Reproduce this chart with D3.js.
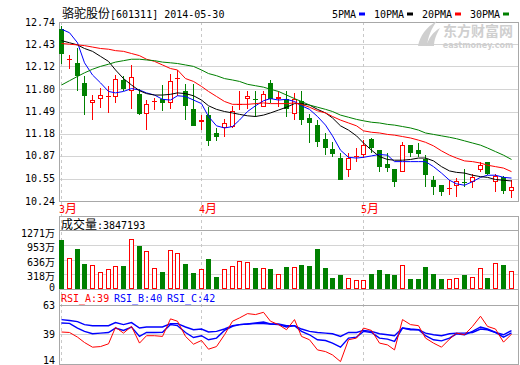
<!DOCTYPE html>
<html>
<head>
<meta charset="utf-8">
<title>骆驼股份</title>
<script src="https://cdn.jsdelivr.net/npm/d3@7"></script>
<style>
  body { margin: 0; background: #fff; }
</style>
</head>
<body>
<script>
// 日K数据 2014-03 ~ 2014-05
const days = d3.range(59);
const open  = [12.64,12.21,12.17,11.89,11.61,11.67,11.69,11.69,11.93,11.78,
               11.73,11.45,11.62,11.66,11.61,11.95,11.78,11.52,11.35,11.44,
               11.19,11.26,11.28,11.58,11.66,11.67,11.55,11.89,11.67,11.67,
               11.45,11.63,11.40,11.30,11.11,10.97,10.84,10.67,10.86,10.88,
               11.10,10.95,10.76,10.68,10.64,11.02,10.95,10.82,10.53,10.46,
               10.41,10.45,10.50,10.50,10.67,10.78,10.51,10.57,10.38];
const high  = [12.68,12.28,12.37,11.98,11.72,11.82,11.84,12.00,11.98,12.14,
               11.81,11.65,11.68,11.86,12.02,12.07,11.88,11.88,11.44,11.55,
               11.26,11.38,11.57,11.78,11.77,11.77,11.78,11.93,11.78,11.78,
               11.75,11.78,11.46,11.37,11.19,11.07,10.91,10.91,10.98,11.09,
               11.12,10.95,10.91,10.68,11.07,11.02,11.05,10.88,10.59,10.46,
               10.53,10.56,10.68,10.62,10.78,10.79,10.62,10.59,10.54];
const low   = [12.16,12.08,11.78,11.44,11.37,11.54,11.47,11.61,11.77,11.52,
               11.44,11.23,11.51,11.50,11.52,11.70,11.37,11.29,11.23,11.01,
               11.08,11.14,11.26,11.51,11.52,11.42,11.55,11.61,11.55,11.42,
               11.37,11.30,11.05,11.00,10.88,10.86,10.53,10.58,10.79,10.84,
               10.91,10.64,10.64,10.43,10.64,10.86,10.86,10.44,10.32,10.31,
               10.32,10.29,10.44,10.42,10.64,10.60,10.37,10.34,10.28];
const close = [12.29,12.23,11.98,11.70,11.65,11.72,11.70,11.95,11.80,11.97,
               11.46,11.59,11.64,11.61,11.91,11.96,11.57,11.29,11.37,11.08,
               11.14,11.33,11.50,11.60,11.71,11.65,11.73,11.66,11.69,11.52,
               11.67,11.37,11.33,11.07,10.98,10.90,10.54,10.84,10.87,11.02,
               10.98,10.72,10.70,10.51,11.02,10.91,10.89,10.60,10.44,10.36,
               10.42,10.52,10.49,10.57,10.74,10.62,10.59,10.38,10.43];
// 成交量 (万股)
const volume = [1070,682,876,553,531,380,424,510,510,1091,
                926,833,467,380,854,790,553,337,438,660,
                258,424,510,617,596,467,467,445,316,474,
                488,517,495,862,452,237,302,230,187,187,
                323,409,323,302,531,215,215,474,323,215,
                208,230,302,251,467,237,574,517,385];
// 均线
const ma5  = [12.64,12.59,12.45,12.17,12.00,11.89,11.77,11.75,11.77,11.81,
              11.79,11.75,11.72,11.66,11.65,11.71,11.70,11.65,11.60,11.42,
              11.29,11.26,11.28,11.37,11.49,11.57,11.64,11.67,11.65,11.66,
              11.63,11.57,11.52,11.42,11.30,11.15,10.95,10.85,10.84,10.85,
              10.87,10.89,10.88,10.79,10.79,10.79,10.79,10.79,10.72,10.63,
              10.53,10.48,10.46,10.51,10.57,10.60,10.60,10.57,10.56];
const ma10 = [12.48,12.45,12.42,12.37,12.33,12.26,12.19,12.07,11.95,11.86,
              11.78,11.74,11.72,11.72,11.73,11.75,11.74,11.71,11.65,11.57,
              11.52,11.49,11.47,11.45,11.43,11.42,11.44,11.47,11.51,11.55,
              11.60,11.60,11.58,11.52,11.47,11.40,11.29,11.23,11.15,11.05,
              10.95,10.86,10.82,10.81,10.81,10.82,10.84,10.84,10.80,10.72,
              10.66,10.64,10.63,10.60,10.58,10.57,10.54,10.53,10.52];
const ma20 = [12.44,12.43,12.42,12.41,12.39,12.37,12.36,12.34,12.33,12.30,
              12.27,12.22,12.19,12.14,12.09,12.07,11.95,11.91,11.84,11.77,
              11.70,11.63,11.59,11.59,11.59,11.60,11.61,11.60,11.60,11.60,
              11.61,11.59,11.55,11.50,11.47,11.42,11.37,11.33,11.29,11.22,
              11.20,11.19,11.17,11.16,11.14,11.12,11.09,11.06,11.01,10.94,
              10.88,10.84,10.80,10.79,10.77,10.74,10.72,10.70,10.65];
const ma30 = [11.86,11.92,11.98,12.03,12.08,12.12,12.15,12.18,12.20,12.22,
              12.22,12.21,12.20,12.18,12.17,12.16,12.14,12.12,12.07,12.02,
              11.99,11.95,11.93,11.91,11.87,11.85,11.83,11.80,11.77,11.72,
              11.67,11.63,11.58,11.55,11.52,11.49,11.44,11.41,11.38,11.36,
              11.34,11.33,11.31,11.30,11.28,11.26,11.23,11.19,11.17,11.15,
              11.13,11.11,11.08,11.05,11.02,10.98,10.93,10.88,10.82];
// RSI
const rsiA = [40.8,40.4,36.5,32.0,28.1,28.6,30.9,44.7,39.9,45.5,
              31.5,37.7,37.7,37.1,51.8,49.8,37.1,30.6,33.7,26.4,
              28.6,38.5,49.8,52.6,56.2,55.4,57.3,49.8,47.0,42.7,
              51.2,37.1,34.3,25.8,24.4,21.6,16.0,34.3,35.7,44.1,
              42.1,31.5,30.0,25.8,51.2,47.0,46.1,35.7,31.5,28.1,
              34.8,39.9,38.5,45.5,54.0,45.5,43.3,32.3,39];
const rsiB = [48.4,48.0,44.1,41.3,39.3,39.9,40.4,44.1,42.1,45.0,
              37.1,40.4,40.4,40.6,47.0,46.1,40.4,36.2,37.7,34.3,
              35.7,42.1,45.5,47.0,47.5,48.4,49.2,47.5,47.0,45.0,
              46.1,41.3,38.5,34.3,33.7,31.5,28.1,35.7,36.5,41.3,
              40.4,35.7,34.8,32.9,44.1,43.3,42.7,37.7,34.3,33.4,
              35.7,39.3,38.5,41.3,45.0,43.3,40.4,36.5,40];
const rsiC = [51.2,50.4,49.5,47.0,46.1,46.1,46.1,48.7,47.0,48.7,
              44.1,45.0,45.0,45.0,47.8,47.8,45.0,42.7,43.3,40.8,
              41.3,43.3,46.1,47.0,47.5,47.8,47.8,47.5,47.5,46.1,
              46.1,43.3,41.3,40.4,39.9,39.3,37.1,40.4,40.4,42.1,
              41.3,39.3,38.5,37.7,44.1,42.7,42.7,39.9,38.5,37.7,
              39.3,39.9,39.9,40.4,43.3,42.7,40.4,38.5,42];

const priceTicks = [10.24,10.55,10.87,11.18,11.49,11.80,12.12,12.43,12.74];
const volTicks = [0,318,636,953,1271];
const rsiTicks = [14,39,63];
const months = [{label:"3月", day:0},{label:"4月", day:18},{label:"5月", day:39}];
const maNames = ["5PMA","10PMA","20PMA","30PMA"];
const maColors = ["#0000ff","#000000","#ff0000","#008000"];

const RED = "#ff0000", GREEN = "#008000", GRID = "#d4d4d4", FRAME = "#a8a8a8";

const svg = d3.select("body").append("svg")
  .attr("width", 520).attr("height", 365);

// 文字: 中文用黑体, 数字用等宽
function label(g, x, y, s, color, anchor, cjkSize) {
  const t = g.append("text")
    .attr("x", x).attr("y", y)
    .attr("fill", color || "#000")
    .attr("text-anchor", anchor || "start");
  s.match(/[\u3000-\u9fff]+|[^\u3000-\u9fff]+/g).forEach(run => {
    const cjk = /[\u3000-\u9fff]/.test(run);
    t.append("tspan").text(run)
      .attr("font-family", cjk ? "Noto Sans CJK SC" : "DejaVu Sans Mono")
      .attr("font-size", cjk ? (cjkSize || 12) : 10);
  });
  return t;
}

const L = 59, R = 519;
const x = d3.scaleBand().domain(days).range([57.125, 514.375]);
const cx = d => Math.round(x(d) + x.bandwidth() / 2);
const y = d3.scaleLinear().domain([10.24, 12.74]).range([201, 22]);
const yv = d3.scaleLinear().domain([0, 1271]).range([289, 230.5]);
const yr = d3.scaleLinear().domain([14, 63]).range([364, 305.5]);
const px = v => Math.round(v) + 0.5;

// ---- 网格 ----
const grid = svg.append("g").attr("stroke", GRID).attr("shape-rendering", "crispEdges");
priceTicks.slice(1, -1).forEach(v => grid.append("line").attr("x1", L).attr("x2", R).attr("y1", px(y(v))).attr("y2", px(y(v))));
volTicks.slice(1, -1).forEach(v => grid.append("line").attr("x1", L).attr("x2", R).attr("y1", px(yv(v))).attr("y2", px(yv(v))));
grid.append("line").attr("x1", L).attr("x2", R).attr("y1", px(yr(39))).attr("y2", px(yr(39)));

// 月份虚线
months.forEach(m => {
  svg.append("line")
    .attr("x1", cx(m.day) + 0.5).attr("x2", cx(m.day) + 0.5)
    .attr("y1", 22).attr("y2", 364)
    .attr("stroke", "#c8c8c8").attr("stroke-dasharray", "3,3");
  label(svg, cx(m.day) - 2, 213, m.label, RED);
});

// 外框
const frame = svg.append("g").attr("stroke", FRAME).attr("fill", "none").attr("shape-rendering", "crispEdges");
frame.append("rect").attr("x", L + 0.5).attr("y", 22.5).attr("width", R - L - 1).attr("height", 178.5);
frame.append("rect").attr("x", L + 0.5).attr("y", 216.5).attr("width", R - L - 1).attr("height", 147.5);
[230.5, 289.5, 305.5].forEach(v => frame.append("line").attr("x1", L).attr("x2", R).attr("y1", v).attr("y2", v));

// 水印
const wm = svg.append("g").attr("fill", "#cfcfcf");
wm.append("path").attr("d", "M418,46 C420,36 426,27 437,21 C431,29 428,37 427,46 Z");
wm.append("path").attr("d", "M426,46 C429,38 433,32 440,28 C436,35 434,40 434,46 Z");
wm.append("text").attr("x", 478).attr("y", 36).attr("text-anchor", "middle")
  .attr("font-family", "Noto Sans CJK SC").attr("font-weight", "bold").attr("font-size", 14).text("东方财富网");
wm.append("text").attr("x", 478).attr("y", 47.5).attr("text-anchor", "middle")
  .attr("font-family", "DejaVu Sans").attr("font-weight", "bold").attr("font-size", 8).text("eastmoney.com");

// ---- K线 ----
const k = svg.append("g").attr("shape-rendering", "crispEdges");
days.forEach(d => {
  const c = cx(d), up = close[d] >= open[d], col = up ? RED : GREEN;
  k.append("line").attr("x1", c + 0.5).attr("x2", c + 0.5)
    .attr("y1", y(high[d])).attr("y2", y(low[d])).attr("stroke", col);
  const top = Math.round(y(Math.max(open[d], close[d])));
  const bot = Math.round(y(Math.min(open[d], close[d])));
  if (bot - top < 2) {
    k.append("line").attr("x1", c - 2).attr("x2", c + 3)
      .attr("y1", top + 0.5).attr("y2", top + 0.5).attr("stroke", col);
  } else if (up) {
    k.append("rect").attr("x", c - 1.5).attr("y", top + 0.5).attr("width", 4).attr("height", bot - top - 1)
      .attr("fill", "#fff").attr("stroke", RED);
  } else {
    k.append("rect").attr("x", c - 2).attr("y", top).attr("width", 5).attr("height", bot - top).attr("fill", GREEN);
  }
});

// 均线
const line = d3.line().x((v, i) => cx(i) + 0.5).y(v => y(v));
[ma5, ma10, ma20, ma30].forEach((s, j) => {
  svg.append("path").attr("d", line(s)).attr("fill", "none")
    .attr("stroke", maColors[j]).attr("stroke-width", 1);
});

// ---- 成交量 ----
const vb = svg.append("g").attr("shape-rendering", "crispEdges");
days.forEach(d => {
  const c = cx(d), up = close[d] >= open[d];
  const top = Math.round(yv(volume[d]));
  if (up) {
    vb.append("rect").attr("x", c - 1.5).attr("y", top + 0.5).attr("width", 4).attr("height", 289 - top - 1)
      .attr("fill", "#fff").attr("stroke", RED);
  } else {
    vb.append("rect").attr("x", c - 2).attr("y", top).attr("width", 5).attr("height", 289 - top).attr("fill", GREEN);
  }
});

// ---- RSI ----
const rline = d3.line().x((v, i) => cx(i) + 0.5).y(v => yr(v));
svg.append("path").attr("d", rline(rsiC)).attr("fill", "none").attr("stroke", "#0000ff").attr("stroke-width", 1.4);
svg.append("path").attr("d", rline(rsiB)).attr("fill", "none").attr("stroke", "#0000ff").attr("stroke-width", 1.4);
svg.append("path").attr("d", rline(rsiA)).attr("fill", "none").attr("stroke", RED).attr("stroke-width", 1);

// ---- 文字 ----
const t = svg.append("g");
label(t, 62, 18, "骆驼股份[601311] 2014-05-30");
const legX = [332, 374, 422, 470];
maNames.forEach((n, j) => {
  label(t, legX[j], 18, n);
  t.append("rect").attr("x", legX[j] + n.length * 6 + 3).attr("y", 12.5).attr("width", 6).attr("height", 3)
    .attr("fill", maColors[j]);
});
priceTicks.forEach(v => label(t, 55, y(v) + 3.5, v.toFixed(2), "#000", "end"));
volTicks.forEach(v => label(t, 55, v === 0 ? 291 : yv(v) + 6, v === 0 ? "0" : v + "万", "#000", "end", 10));
rsiTicks.forEach(v => label(t, 55, v === 14 ? 363.5 : yr(v) + 3.5, String(v), "#000", "end"));
label(t, 61, 229, "成交量:3847193");
label(t, 61, 302, "RSI_A:" + rsiA[58], RED);
label(t, 114, 302, "RSI_B:" + rsiB[58], "#0000ff");
label(t, 167, 302, "RSI_C:" + rsiC[58], "#0000ff");
</script>
</body>
</html>
